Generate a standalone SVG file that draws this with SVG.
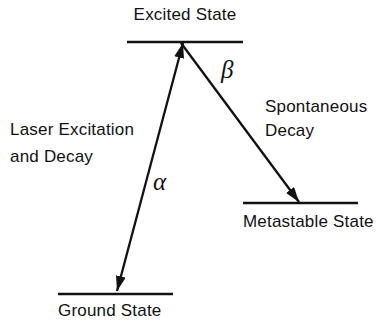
<svg xmlns="http://www.w3.org/2000/svg" width="376" height="321" viewBox="0 0 376 321">
<style>
.lbl{font-family:"Liberation Sans",Arial,sans-serif;font-size:17px;letter-spacing:0.2px;fill:#111}
.greek{font-family:"Liberation Serif","Times New Roman",serif;font-style:italic;font-size:25px;fill:#111}
.lvl{stroke:#111;stroke-width:2.5;fill:none}
.arr{stroke:#111;stroke-width:2.3;fill:none}
</style>
<defs>
<marker id="ah" markerUnits="userSpaceOnUse" markerWidth="16" markerHeight="12" refX="15" refY="5" orient="auto-start-reverse">
<path d="M0,0 L15,5 L0,10 z" fill="#111"/>
</marker>
</defs>
<g id="excited">
<line class="lvl" x1="127" y1="42" x2="243" y2="42"/>
<text class="lbl" x="185" y="20" text-anchor="middle">Excited State</text>
</g>
<g id="ground">
<line class="lvl" x1="58" y1="294" x2="173" y2="294"/>
<text class="lbl" x="58" y="316">Ground State</text>
</g>
<g id="metastable">
<line class="lvl" x1="243" y1="203" x2="358" y2="203"/>
<text class="lbl" x="243" y="227">Metastable State</text>
</g>
<g id="connectors">
<line class="arr" x1="117" y1="291" x2="183" y2="43" marker-start="url(#ah)" marker-end="url(#ah)"/>
<line class="arr" x1="181" y1="43" x2="299" y2="202" marker-end="url(#ah)"/>
</g>
<g id="labels">
<text class="lbl" x="10" y="135">Laser Excitation</text>
<text class="lbl" x="10" y="162">and Decay</text>
<text class="lbl" x="265" y="112">Spontaneous</text>
<text class="lbl" x="265" y="136">Decay</text>
<text class="greek" x="153" y="190">α</text>
<text class="greek" x="221" y="78">β</text>
</g>
</svg>
